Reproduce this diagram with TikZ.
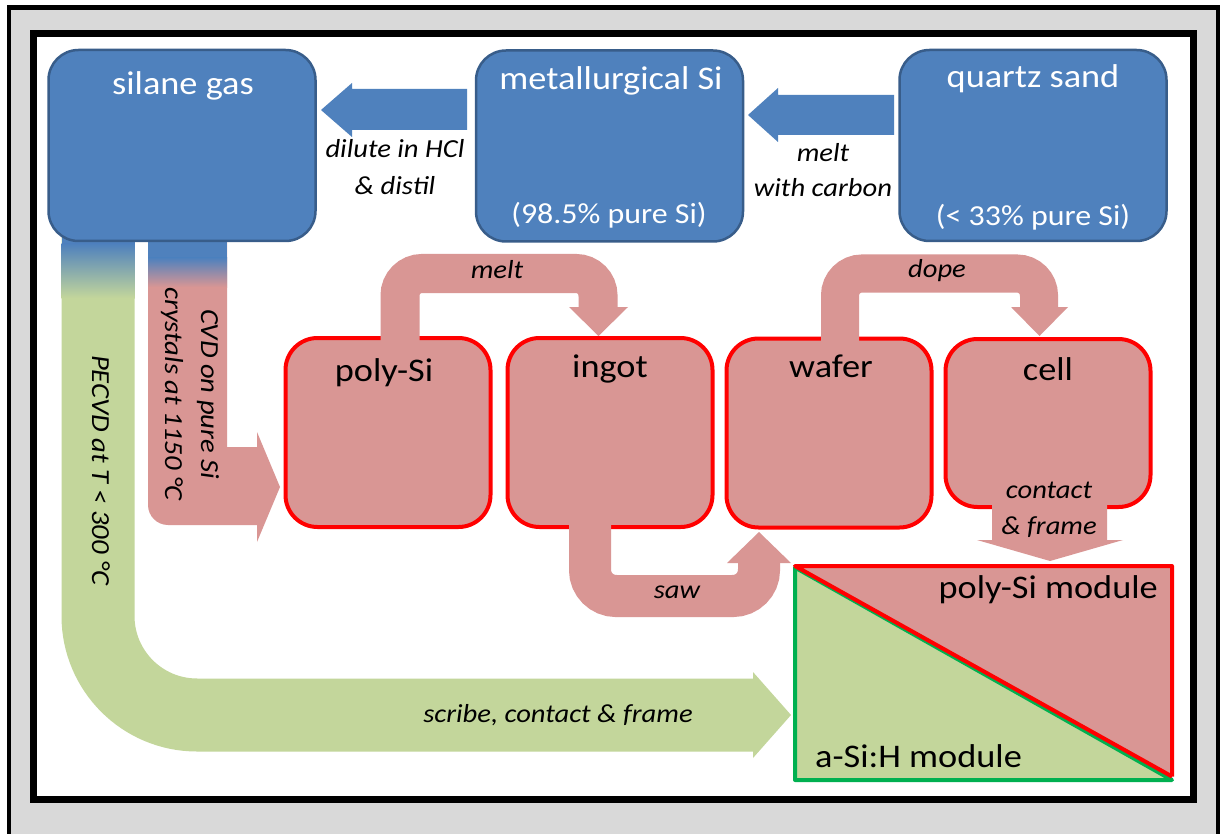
\documentclass[tikz,border=0pt]{standalone}
\usepackage{fontspec}
\setmainfont{Carlito}[FakeStretch=1.1]
\definecolor{siBlue}{HTML}{4F81BD}
\definecolor{siBlueLine}{HTML}{385D8A}
\definecolor{siRed}{HTML}{D99694}
\definecolor{siGreen}{HTML}{C3D69B}
\definecolor{siGreenLine}{HTML}{00B050}
\definecolor{siGray}{HTML}{D9D9D9}
\begin{document}
\begin{tikzpicture}[x=1pt, y=-1pt]
% Silicon routes, laid out in pixel units
\def\titlefont{\fontsize{33}{40}\selectfont}
\def\notefont{\fontsize{29}{35}\selectfont}
\def\stepfont{\fontsize{26}{36}\selectfont\itshape}
\tikzset{
  bluebox/.style={draw=siBlueLine, line width=2.5pt, fill=siBlue, rounded corners=30pt,
    minimum width=267pt, minimum height=191pt, inner sep=0pt},
  redbox/.style={draw=red, line width=4pt, fill=siRed, rounded corners=32pt,
    minimum width=205pt, minimum height=189pt, inner sep=0pt},
  boxtitle/.style={anchor=base, inner sep=0pt, font=\titlefont},
  boxnote/.style={anchor=base, inner sep=0pt, font=\notefont, text=white},
  steplabel/.style={anchor=base, inner sep=0pt, font=\stepfont, align=center},
}
\clip (0,0) rectangle (1220,834);
% Background and frames
\fill[white] (0,0) rectangle (1220,834);
\filldraw[fill=siGray, draw=black, line width=4.5pt] (9,7.5) rectangle (1218.5,900);
\filldraw[fill=white, draw=black, line width=7pt] (33.5,34) rectangle (1193.5,799);
% a-Si:H route (PECVD)
\draw[siGreen, line width=73pt, rounded corners=99pt] (98,230) -- (98,715) -- (755,715);
\fill[siGreen] (753,672) -- (791,715) -- (753,758) -- cycle;
\fill[siBlue] (61.5,230) rectangle (134.5,244);
\shade[top color=siBlue, bottom color=siGreen] (61.5,244) rectangle (134.5,298);
% poly-Si route (CVD)
\fill[siRed] (148,230) -- (148,505) .. controls (148,516) and (157,525) .. (168,525)
  -- (257,525) -- (257,542) -- (280,487) -- (257,432) -- (257,447) -- (227,447) -- (227,230) -- cycle;
\fill[siBlue] (148,230) rectangle (227,258);
\shade[top color=siBlue, bottom color=siRed] (148,258) rectangle (227,287);
% Raw material boxes
\node[bluebox] (silane) at (182,145.5) {};
\node[bluebox] (metal) at (609.5,146) {};
\node[bluebox] (quartz) at (1033,145.5) {};
\node[boxtitle, text=white] (silaneT) at (183,95) {silane gas};
\node[boxtitle, text=white] (metalT) at (611,90) {metallurgical Si};
\node[boxnote] (metalN) at (609,224) {(98.5\% pure Si)};
\node[boxtitle, text=white] (quartzT) at (1033,88) {quartz sand};
\node[boxnote] (quartzN) at (1033,226) {(< 33\% pure Si)};
% Blue block arrows
\fill[siBlue] (467,89) -- (352,89) -- (352,83) -- (321,110) -- (352,137) -- (352,130) -- (467,130) -- cycle;
\fill[siBlue] (894,95) -- (778,95) -- (778,88) -- (748,115) -- (778,142) -- (778,135) -- (894,135) -- cycle;
% Wafer route boxes
\node[redbox] (poly) at (388,432.5) {};
\node[redbox] (ingot) at (610,432.5) {};
\node[redbox] (wafer) at (829,433) {};
\node[redbox, minimum height=168pt] (cell) at (1048,423) {};
\node[boxtitle] (polyT) at (384,381) {poly-Si};
\node[boxtitle] (ingotT) at (610,377) {ingot};
\node[boxtitle] (waferT) at (831,377) {wafer};
\node[boxtitle] (cellT) at (1048,380) {cell};
% Red bent arrows
\draw[siRed, line width=39pt, rounded corners=22pt] (400,345) -- (400,273.5) -- (598,273.5) -- (598,308);
\fill[siRed] (569,307) -- (628,307) -- (598.5,336) -- cycle;
\draw[siRed, line width=38pt, rounded corners=22pt] (840,345) -- (840,273.5) -- (1039,273.5) -- (1039,308);
\fill[siRed] (1011,307) -- (1068,307) -- (1039.5,336) -- cycle;
\draw[siRed, line width=42pt, rounded corners=26pt] (590,520) -- (590,596) -- (759,596) -- (759,562);
\fill[siRed] (727,563) -- (791,563) -- (759,532) -- cycle;
\fill[siRed] (992,480) -- (1107,480) -- (1107,540) -- (1123,540) -- (1050,561) -- (977,540) -- (992,540) -- cycle;
% Module, split along the diagonal
\node[minimum width=377pt, minimum height=214pt, inner sep=0pt, outer sep=0pt] (module) at (983.5,673) {};
\fill[siRed] (module.north west) -- (module.north east) -- (module.south east) -- cycle;
\fill[siGreen] (module.north west) -- (module.south east) -- (module.south west) -- cycle;
\draw[siGreenLine, line width=4pt, line join=round] ([yshift=-1.5pt]module.north west) -- (module.south west) -- (module.south east) -- cycle;
\draw[red, line width=4pt, line join=round] ([yshift=3.5pt]module.south east) -- (module.north east) -- (module.north west) -- ([yshift=3.5pt]module.south east);
\node[boxtitle, anchor=base east] (polyM) at (1158,598) {poly-Si module};
\node[boxtitle, anchor=base west] (asiM) at (815,767) {a-Si:H module};
% Step labels
\node[steplabel] (diluteL) at (395,158) {dilute in HCl};
\node[steplabel] (distilL) at (395,195) {\& distil};
\node[steplabel] (meltL) at (823,162) {melt};
\node[steplabel] (carbonL) at (823,197) {with carbon};
\node[steplabel] (remeltL) at (497,278) {melt};
\node[steplabel] (dopeL) at (937,277) {dope};
\node[steplabel] (sawL) at (677,598) {saw};
\node[steplabel] (contactL) at (1049,498) {contact};
\node[steplabel] (frameL) at (1049,534) {\& frame};
\node[steplabel] (scribeL) at (558,722) {scribe, contact \& frame};
\node[steplabel, anchor=center, rotate=-90] (cvdL) at (190,394) {CVD on pure Si\\crystals at 1150 °C};
\node[steplabel, anchor=center, rotate=-90] (pecvdL) at (101,470) {PECVD at T < 300 °C};
\end{tikzpicture}
\end{document}
